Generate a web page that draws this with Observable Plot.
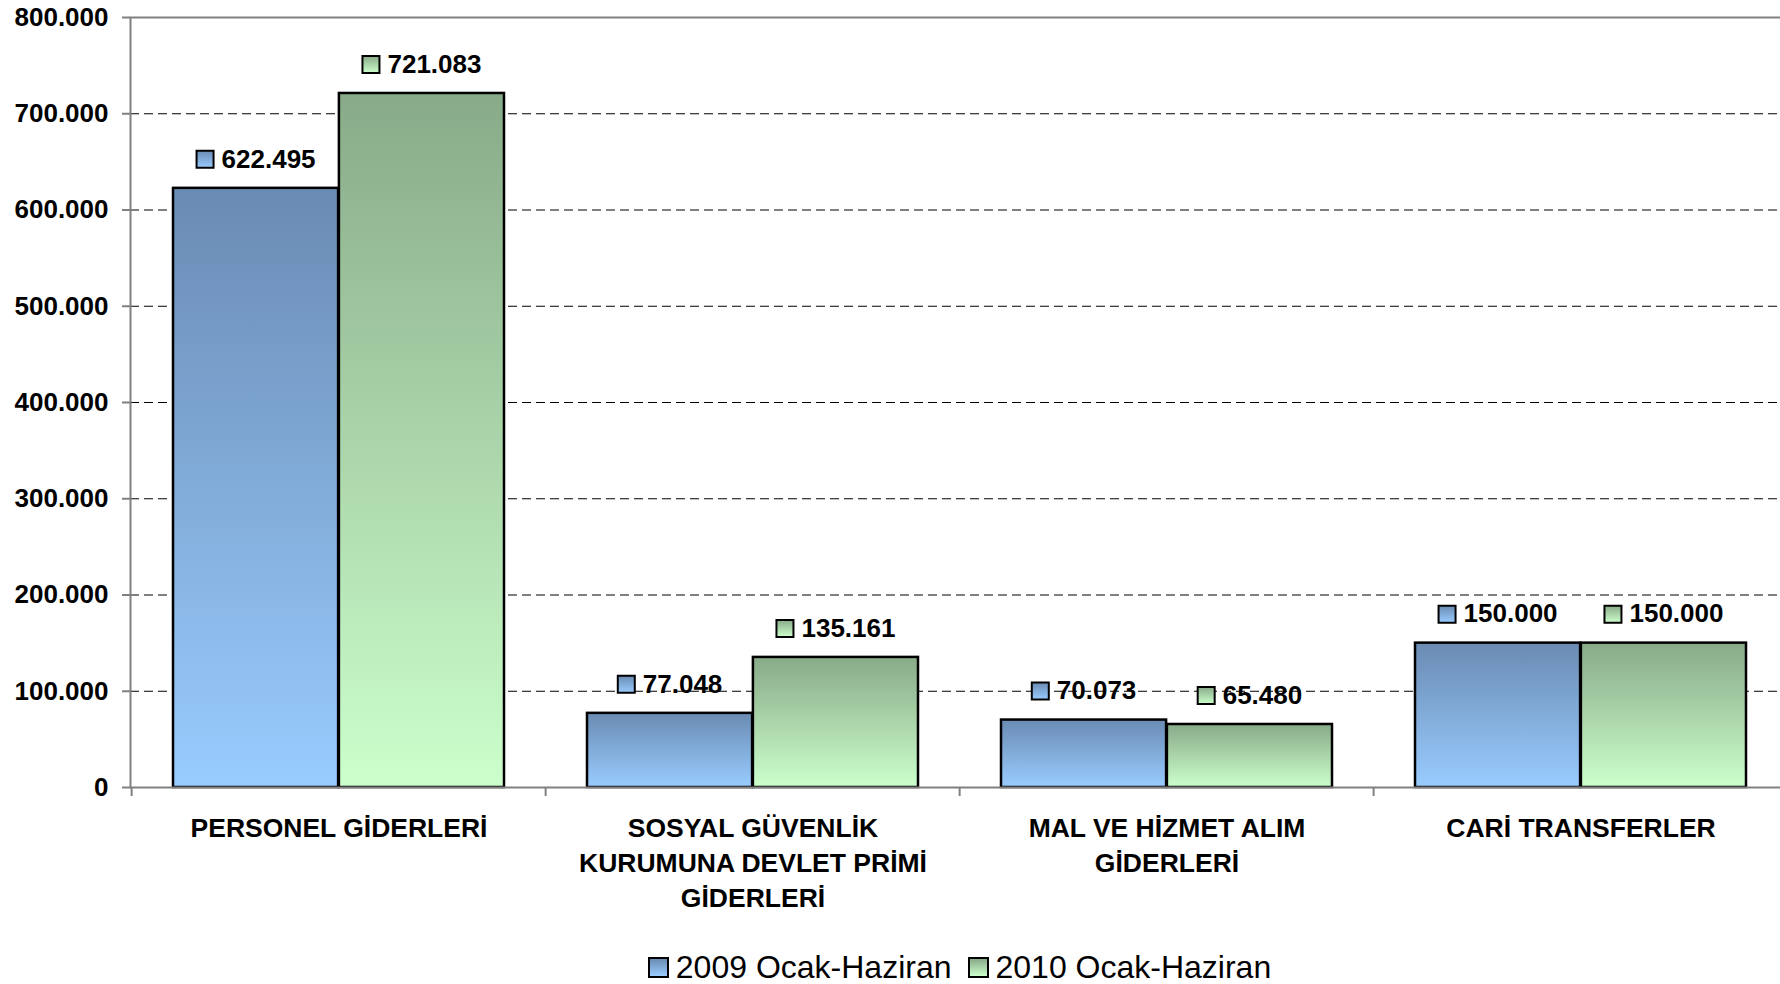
<!DOCTYPE html>
<html>
<head>
<meta charset="utf-8">
<script src="https://cdn.jsdelivr.net/npm/d3@7"></script>
<script src="https://cdn.jsdelivr.net/npm/@observablehq/plot@0.6"></script>
<style>
  html, body { margin: 0; padding: 0; background: #fff; overflow: hidden; }
  body { font-family: "Liberation Sans", Arial, sans-serif; color: #000; }
  #chart svg { display: block; }
  #legend { box-sizing: border-box; width: 1780px; padding-left: 139px; height: 39px; line-height: 39px;
            font-size: 32px; text-align: center; white-space: nowrap; }
  #legend .sw { display: inline-block; width: 17px; height: 17px; border: 2px solid #000; margin-right: 7px; }
  #legend .item + .item { margin-left: 16px; }
</style>
</head>
<body>
<div id="chart"></div>
<div id="legend"></div>
<script>
// ---- data ----
const categories = [
  "PERSONEL GİDERLERİ",
  "SOSYAL GÜVENLİK KURUMUNA DEVLET PRİMİ GİDERLERİ",
  "MAL VE HİZMET ALIM GİDERLERİ",
  "CARİ TRANSFERLER"
];
const tickLabels = [
  "PERSONEL GİDERLERİ",
  "SOSYAL GÜVENLİK\nKURUMUNA DEVLET PRİMİ\nGİDERLERİ",
  "MAL VE HİZMET ALIM\nGİDERLERİ",
  "CARİ TRANSFERLER"
];
const series = ["2009 Ocak-Haziran", "2010 Ocak-Haziran"];
const values2009 = [622495, 77048, 70073, 150000];
const values2010 = [721083, 135161, 65480, 150000];
const yTicks = [0, 100000, 200000, 300000, 400000, 500000, 600000, 700000, 800000];
const seriesGradients = [["#6a8bb3", "#99ccff"], ["#88aa88", "#ccffcc"]];

// ---- table ----
const data = categories.flatMap((c, i) => [
  {category: c, series: series[0], value: values2009[i]},
  {category: c, series: series[1], value: values2010[i]}
]);
const gradIds = ["gradBlue", "gradGreen"];
const fillOf = s => `url(#${gradIds[series.indexOf(s)]})`;

const locale = d3.formatLocale({decimal: ",", thousands: ".", grouping: [3], currency: ["", ""]});
const fmt = locale.format(",d");
const FONT = '"Liberation Sans", Arial, sans-serif';
const ctx = document.createElement("canvas").getContext("2d");
ctx.font = `bold 26px ${FONT}`;
const textW = s => ctx.measureText(s).width;
const SQ = 17, GAP = 8, LABEL_DY = -29;

const W = 1780, H = 948, PLOT_BOTTOM = 787;
const M = {left: 130, right: -9, top: 17, bottom: H - PLOT_BOTTOM};

const xOpts = {type: "band", domain: categories, paddingInner: 0.2, paddingOuter: 0.1,
               range: [M.left, W - M.right], label: null};
const xs = Plot.scale({x: xOpts});
const bw = xs.bandwidth, step = xs.step;
const sideOffset = s => (series.indexOf(s) === 0 ? -1 : 1) * bw / 4;

const labelMarks = data.flatMap(d => {
  const tw = textW(fmt(d.value));
  const off = sideOffset(d.series);
  return [
    Plot.dot([d], {x: "category", y: "value", symbol: "square",
      r: SQ / Math.sqrt(Math.PI), fill: fillOf(d.series), stroke: "#000", strokeWidth: 2,
      dx: off - (GAP + tw) / 2, dy: LABEL_DY}),
    Plot.text([d], {x: "category", y: "value", text: v => fmt(v.value),
      dx: off + (SQ + GAP) / 2, dy: LABEL_DY, fontSize: 26, fontWeight: "bold", fill: "#000"})
  ];
});

const chart = Plot.plot({
  width: W, height: H,
  marginLeft: M.left, marginRight: M.right, marginTop: M.top, marginBottom: M.bottom,
  style: {fontFamily: FONT, background: "#fff", color: "#000"},
  x: xOpts,
  y: {domain: [0, 800000], label: null},
  marks: [
    Plot.gridY(yTicks.filter(t => t > 0 && t < 800000), {stroke: "#000", strokeOpacity: 1, strokeWidth: 1, strokeDasharray: "9,5"}),
    Plot.barY(data.filter(d => d.series === series[0]), {x: "category", y: "value", insetRight: bw / 2,
      fill: fillOf(series[0]), stroke: "#000", strokeWidth: 2.5}),
    Plot.barY(data.filter(d => d.series === series[1]), {x: "category", y: "value", insetLeft: bw / 2,
      fill: fillOf(series[1]), stroke: "#000", strokeWidth: 2.5}),
    Plot.frame({stroke: "#808080", strokeWidth: 2}),
    Plot.ruleX(categories, {x: d => d, y1: 0, y2: 0, insetBottom: -9, dx: -step / 2, stroke: "#808080", strokeWidth: 2}),
    Plot.axisY(yTicks, {tickSize: 8, tickPadding: 14, tickFormat: fmt, fontSize: 26, fontWeight: "bold",
      stroke: "#808080", strokeWidth: 2, label: null}),
    Plot.axisX({anchor: "bottom", tickSize: 0, tickPadding: 25, fontSize: 26.5, fontWeight: "bold", lineHeight: 1.32,
      tickFormat: c => tickLabels[categories.indexOf(c)], label: null}),
    ...labelMarks
  ]
});

// gradients
const svg = d3.select(chart);
const defs = svg.insert("defs", ":first-child");
gradIds.forEach((id, i) => {
  const g = defs.append("linearGradient").attr("id", id).attr("x1", 0).attr("y1", 0).attr("x2", 0).attr("y2", 1);
  g.append("stop").attr("offset", 0).attr("stop-color", seriesGradients[i][0]);
  g.append("stop").attr("offset", 1).attr("stop-color", seriesGradients[i][1]);
});

document.getElementById("chart").appendChild(chart);

// legend
const legend = d3.select("#legend");
series.forEach((s, i) => {
  const item = legend.append("span").attr("class", "item");
  item.append("span").attr("class", "sw")
    .style("background", `linear-gradient(${seriesGradients[i][0]}, ${seriesGradients[i][1]})`);
  item.append("span").text(s);
});
</script>
</body>
</html>
